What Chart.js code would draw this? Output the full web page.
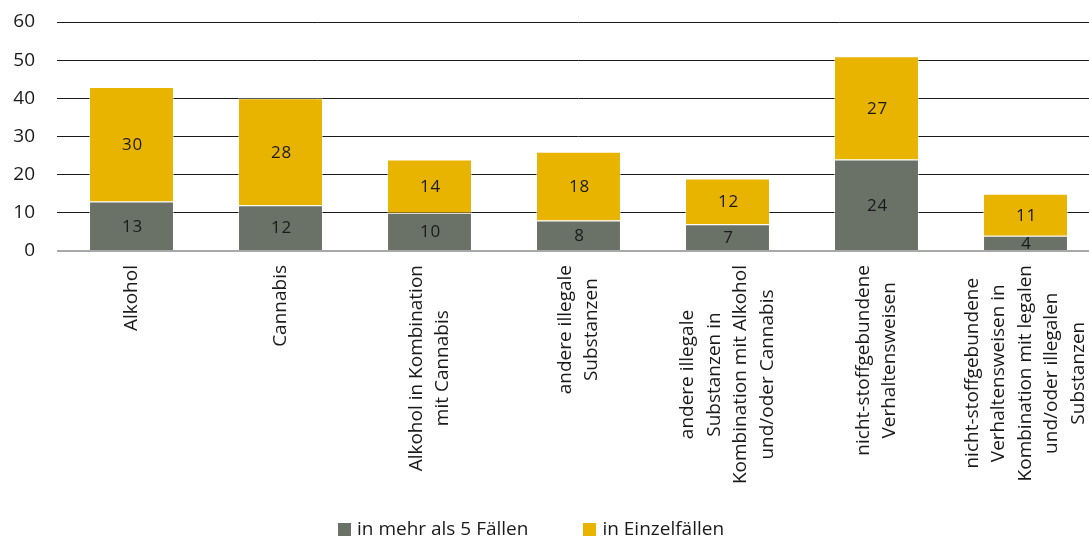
<!DOCTYPE html>
<html lang="de">
<head>
<meta charset="utf-8">
<script src="https://cdn.jsdelivr.net/npm/chart.js@4/dist/chart.umd.min.js"></script>
<style>
    html, body { margin: 0; padding: 0; background: #fff; overflow: hidden; }
    #wrap { position: relative; width: 1089px; height: 539px; overflow: hidden; }
    #chart { display: block; }
    #legend {
        position: absolute; left: 338px; top: 515px;
        display: flex; align-items: center;
        font: 19px "Open Sans", "Noto Sans", sans-serif;
        color: #1a1a1a; white-space: nowrap;
    }
    #legend .item { display: flex; align-items: center; margin-right: 55px; }
    #legend .box { width: 13px; height: 13px; margin-right: 6px; margin-top: 3px; }
</style>
</head>
<body>
<div id="wrap">
    <canvas id="chart" width="1100" height="539"></canvas>
    <div id="legend"></div>
</div>
<script>
// Categories (multi-line labels)
const categories = [
    ['Alkohol'],
    ['Cannabis'],
    ['Alkohol in Kombination', 'mit Cannabis'],
    ['andere illegale', 'Substanzen'],
    ['andere illegale', 'Substanzen in', 'Kombination mit Alkohol', 'und/oder Cannabis'],
    ['nicht-stoffgebundene', 'Verhaltensweisen'],
    ['nicht-stoffgebundene', 'Verhaltensweisen in', 'Kombination mit legalen', 'und/oder illegalen', 'Substanzen']
];

// Series values
const moreThanFive = [13, 12, 10, 8, 7, 24, 4];
const singleCases = [30, 28, 14, 18, 12, 27, 11];

const yTicks = [0, 10, 20, 30, 40, 50, 60];

const GRAY = '#6a7268';
const YELLOW = '#e8b400';
const FONT = '"Open Sans", "Noto Sans", sans-serif';

// Draw value labels inside the bar segments
const valueLabels = {
    id: 'valueLabels',
    afterDatasetsDraw(chart) {
        const ctx = chart.ctx;
        ctx.save();
        ctx.font = '17px ' + FONT;
        ctx.letterSpacing = '0.8px';
        ctx.fillStyle = '#1a1a1a';
        ctx.textAlign = 'center';
        ctx.textBaseline = 'middle';
        chart.data.datasets.forEach((ds, di) => {
            chart.getDatasetMeta(di).data.forEach((bar, i) => {
                const c = bar.getCenterPoint();
                ctx.fillText(String(ds.data[i]), c.x + 1, c.y + 1);
            });
        });
        ctx.restore();
    }
};

// Rotated, center-aligned category labels below the axis
const categoryLabels = {
    id: 'categoryLabels',
    afterDraw(chart) {
        const ctx = chart.ctx;
        const xScale = chart.scales.x;
        const top = chart.chartArea.bottom + 14;
        const lineGap = 26.5;
        ctx.save();
        ctx.font = '19px ' + FONT;
        ctx.fillStyle = '#1a1a1a';
        ctx.textAlign = 'center';
        ctx.textBaseline = 'middle';
        categories.forEach((lines, i) => {
            const x = xScale.getPixelForValue(i);
            const maxW = Math.max(...lines.map(l => ctx.measureText(l).width));
            const cy = top + maxW / 2;
            lines.forEach((line, j) => {
                const lx = x + (j - (lines.length - 1) / 2) * lineGap;
                ctx.save();
                ctx.translate(lx, cy);
                ctx.rotate(-Math.PI / 2);
                ctx.fillText(line, 0, 0);
                ctx.restore();
            });
        });
        ctx.restore();
    }
};

const chart = new Chart(document.getElementById('chart'), {
    type: 'bar',
    data: {
        labels: categories.map(c => c.join(' ')),
        datasets: [{
            label: 'in mehr als 5 Fällen',
            data: moreThanFive,
            backgroundColor: GRAY,
            borderColor: 'rgba(255,255,255,0.5)',
            borderWidth: 1,
            barPercentage: 0.57,
            categoryPercentage: 1
        }, {
            label: 'in Einzelfällen',
            data: singleCases,
            backgroundColor: YELLOW,
            borderColor: 'rgba(255,255,255,0.5)',
            borderWidth: 1,
            barPercentage: 0.57,
            categoryPercentage: 1
        }]
    },
    options: {
        responsive: false,
        animation: false,
        layout: { padding: { top: 22, left: 0, right: 0, bottom: 0 } },
        plugins: {
            tooltip: { enabled: false },
            legend: { display: false }
        },
        scales: {
            x: {
                stacked: true,
                grid: { display: false },
                border: { display: false },
                ticks: { display: false },
                afterFit(scale) { scale.height = 288; }
            },
            y: {
                stacked: true,
                min: 0,
                max: 60,
                afterBuildTicks(scale) {
                    scale.ticks = yTicks.map(v => ({ value: v }));
                },
                afterFit(scale) {
                    scale.width = 57;
                    scale.paddingTop = 0;
                    scale.paddingBottom = 0;
                },
                border: { display: false },
                grid: {
                    drawTicks: false,
                    color: ctx => ctx.tick && ctx.tick.value === 0 ? '#a8a8a8' : '#1a1a1a',
                    lineWidth: ctx => ctx.tick && ctx.tick.value === 0 ? 2 : 1
                },
                ticks: {
                    padding: 22,
                    color: '#1a1a1a',
                    font: { family: FONT, size: 19 }
                }
            }
        }
    },
    plugins: [valueLabels, categoryLabels]
});

// HTML legend built from the datasets
const legendEl = document.getElementById('legend');
chart.data.datasets.forEach(ds => {
    const item = document.createElement('div');
    item.className = 'item';
    item.innerHTML = `<span class="box" style="background:${ds.backgroundColor}"></span><span>${ds.label}</span>`;
    legendEl.appendChild(item);
});
</script>
</body>
</html>
